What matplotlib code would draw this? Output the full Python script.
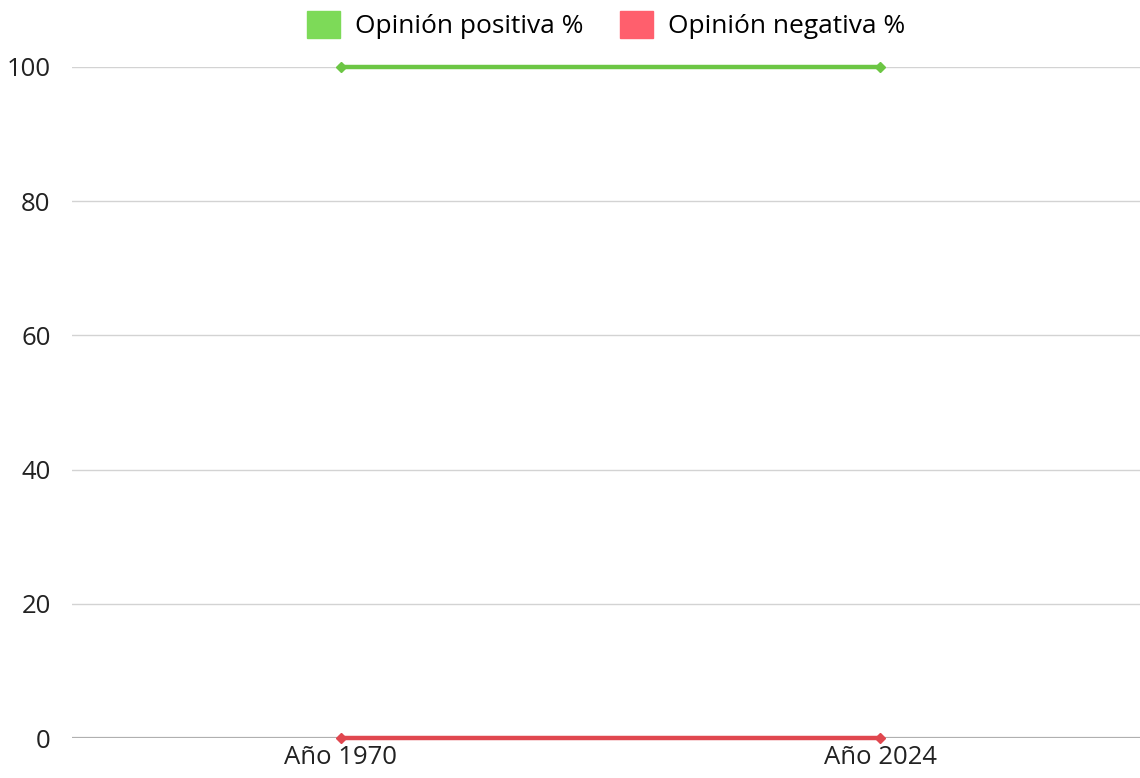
import matplotlib as mpl
import matplotlib.pyplot as plt
from matplotlib.patches import Patch

mpl.rcParams['font.family'] = ['Open Sans', 'DejaVu Sans']

# Data
categories = ['Año 1970', 'Año 2024']
positiva = [100, 100]
negativa = [0, 0]
yticks = [0, 20, 40, 60, 80, 100]

green_patch = '#7dda58'
green_line = '#6cc644'
red_patch = '#ff5f6d'
red_line = '#e0474f'

fig = plt.figure(figsize=(11.4, 7.78), dpi=100)
ax = fig.add_axes([71.5 / 1140, 40 / 778, 1078 / 1140, 671 / 778])

x = range(len(categories))
ax.plot(x, positiva, color=green_line, lw=3.2, marker='D', ms=5, zorder=3,
        clip_on=False)
ax.plot(x, negativa, color=red_line, lw=3.2, marker='D', ms=5, zorder=3,
        clip_on=False)

ax.set_xlim(-0.5, 1.5)
ax.set_ylim(0, 100)
ax.set_xticks(list(x))
ax.set_xticklabels(categories)
ax.set_yticks(yticks)

for y in yticks[1:]:
    ax.axhline(y, color='#d3d3d3', lw=1, zorder=1)
ax.axhline(0, color='#b0b0b0', lw=1.6, zorder=2)

for s in ax.spines.values():
    s.set_visible(False)
ax.tick_params(axis='both', length=0, labelsize=18.5, colors='#222222')
ax.tick_params(axis='y', pad=15)
ax.tick_params(axis='x', pad=5)

handles = [Patch(color=green_patch, label='Opinión positiva %'),
           Patch(color=red_patch, label='Opinión negativa %')]
fig.legend(handles=handles, loc='upper center', bbox_to_anchor=(606 / 1140, 1.0),
           ncol=2, frameon=False, fontsize=19, handlelength=1.25,
           handleheight=1.25, handletextpad=0.55, columnspacing=1.4,
           borderaxespad=0.0)

plt.savefig('out.png', dpi=100)
